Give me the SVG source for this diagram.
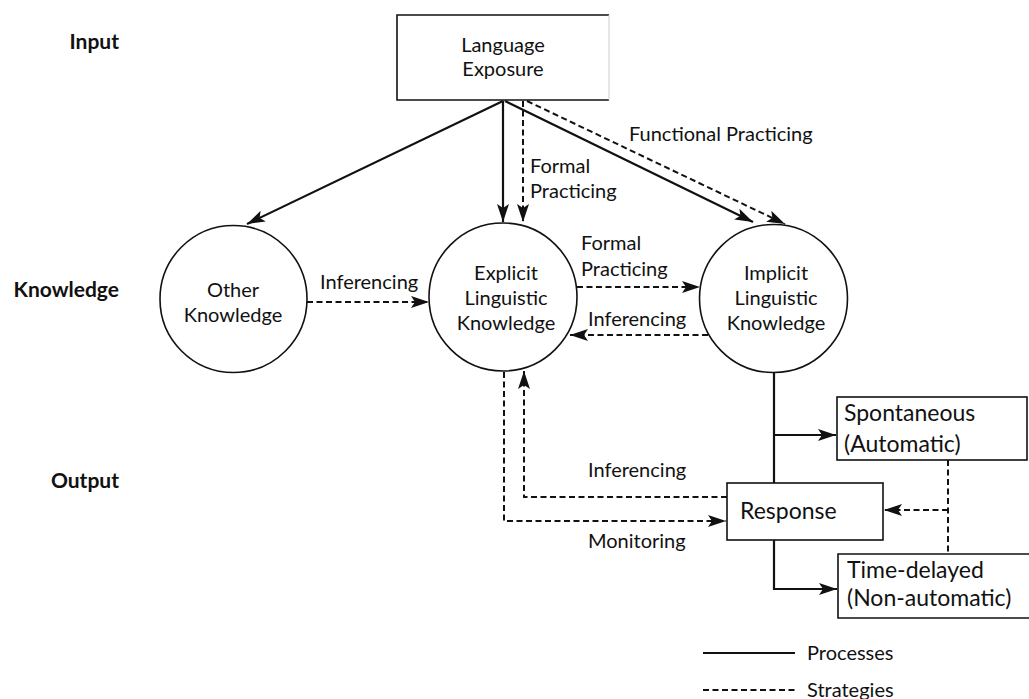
<svg xmlns="http://www.w3.org/2000/svg" width="1029" height="699" viewBox="0 0 1029 699">
<defs>
<style>
text{font-family:Lato,"Liberation Sans",sans-serif;fill:#111;font-size:20px}
.side{font-weight:bold;font-size:21px;text-anchor:end}
.mid{text-anchor:middle}
.big{font-size:23px}
.node{fill:#fff;stroke:#111;stroke-width:1.6}
.p{fill:none;stroke:#111;stroke-width:2.2}
.s{fill:none;stroke:#111;stroke-width:2;stroke-dasharray:6 3.5}
</style>
<marker id="ah" markerUnits="userSpaceOnUse" markerWidth="20" markerHeight="14" refX="18" refY="7" orient="auto">
<path d="M0,1 L18,7 L0,13 L4,7 Z" fill="#111"/>
</marker>
</defs>
<rect width="1029" height="699" fill="#fff"/>
<g id="side-labels">
<text class="side" x="119" y="49">Input</text>
<text class="side" x="119" y="297">Knowledge</text>
<text class="side" x="119" y="488">Output</text>
</g>
<g id="language-exposure">
<path class="node" d="M609,15 H397 V100 H609"/>
<line x1="609" y1="15" x2="609" y2="100" stroke="#ccc" stroke-width="1"/>
<text class="mid" x="503" y="52">Language</text>
<text class="mid" x="503" y="76">Exposure</text>
</g>
<g id="other-knowledge">
<circle class="node" cx="233.5" cy="299" r="73.5"/>
<text class="mid" x="233" y="297">Other</text>
<text class="mid" x="233" y="322">Knowledge</text>
</g>
<g id="explicit-knowledge">
<circle class="node" cx="503" cy="297" r="74"/>
<text class="mid" x="506" y="280">Explicit</text>
<text class="mid" x="506" y="305">Linguistic</text>
<text class="mid" x="506" y="330">Knowledge</text>
</g>
<g id="implicit-knowledge">
<circle class="node" cx="773.5" cy="298.5" r="74"/>
<text class="mid" x="776" y="280">Implicit</text>
<text class="mid" x="776" y="305">Linguistic</text>
<text class="mid" x="776" y="330">Knowledge</text>
</g>
<g id="spontaneous">
<rect class="node" x="837" y="397" width="190" height="63"/>
<text class="big" x="844" y="421">Spontaneous</text>
<text class="big" x="844" y="452">(Automatic)</text>
</g>
<g id="response">
<rect class="node" x="727" y="483" width="156" height="57"/>
<text class="big" x="740" y="519">Response</text>
</g>
<g id="time-delayed">
<path class="node" d="M1035,554 H838 V618 H1035"/>
<text class="big" x="847" y="578">Time-delayed</text>
<text class="big" x="847" y="606">(Non-automatic)</text>
</g>
<g id="connectors">
<line class="p" x1="503" y1="101" x2="247" y2="224" marker-end="url(#ah)"/>
<line class="p" x1="503" y1="101" x2="503" y2="222" marker-end="url(#ah)"/>
<line class="s" x1="523" y1="101" x2="523" y2="222" marker-end="url(#ah)"/>
<line class="p" x1="505" y1="101" x2="753" y2="222" marker-end="url(#ah)"/>
<line class="s" x1="527" y1="101" x2="785" y2="224" marker-end="url(#ah)"/>
<line class="s" x1="307" y1="302" x2="429" y2="302" marker-end="url(#ah)"/>
<line class="s" x1="577" y1="287" x2="700" y2="287" marker-end="url(#ah)"/>
<line class="s" x1="708" y1="335" x2="570" y2="335" marker-end="url(#ah)"/>
<line class="p" x1="774" y1="373" x2="774" y2="483" stroke-width="1.6"/>
<line class="p" x1="774" y1="435" x2="836" y2="435" marker-end="url(#ah)"/>
<polyline class="p" points="774,540 774,589 837,589" marker-end="url(#ah)"/>
<line class="s" x1="948" y1="460" x2="948" y2="554"/>
<line class="s" x1="948" y1="510" x2="884" y2="510" marker-end="url(#ah)"/>
<polyline class="s" points="727,497 524,497 524,371" marker-end="url(#ah)"/>
<polyline class="s" points="504,372 504,521 726,521" marker-end="url(#ah)"/>
</g>
<g id="connector-labels">
<text x="629" y="141">Functional Practicing</text>
<text x="530" y="173">Formal</text>
<text x="530" y="198">Practicing</text>
<text x="320" y="289">Inferencing</text>
<text x="581" y="250">Formal</text>
<text x="581" y="276">Practicing</text>
<text x="588" y="326">Inferencing</text>
<text x="588" y="477">Inferencing</text>
<text x="588" y="548">Monitoring</text>
</g>
<g id="legend">
<line class="p" x1="703" y1="653" x2="795" y2="653"/>
<text x="807" y="660">Processes</text>
<line class="s" x1="703" y1="690" x2="795" y2="690" stroke-dasharray="4.5 3"/>
<text x="807" y="697">Strategies</text>
</g>
</svg>
